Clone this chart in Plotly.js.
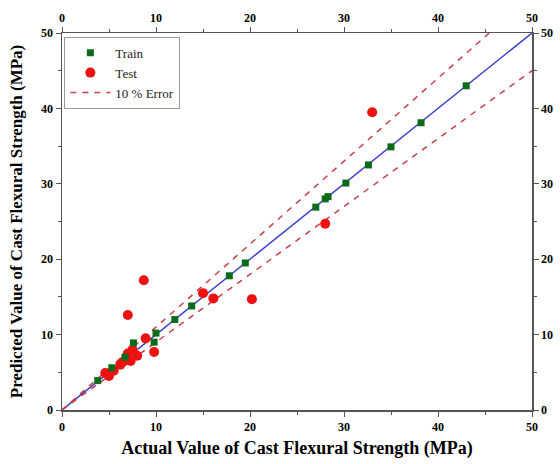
<!DOCTYPE html>
<html>
<head>
<meta charset="utf-8">
<script src="https://cdn.plot.ly/plotly-3.0.1.min.js"></script>
<style>html,body{margin:0;padding:0;background:#fff;}#chart{width:560px;height:464px;}</style>
</head>
<body>
<div id="chart"></div>
<script>
// Train data (actual, predicted)
const trainActual    = [3.8, 5.3, 6.7, 7.6, 9.8, 10.0, 12.0, 13.8, 17.8, 19.5, 27.0, 28.0, 28.3, 30.2, 32.6, 35.0, 38.2, 43.0];
const trainPredicted = [3.9, 5.6, 7.0, 8.9, 9.0, 10.2, 12.0, 13.8, 17.8, 19.5, 26.9, 28.0, 28.3, 30.1, 32.5, 34.9, 38.1, 43.0];
// Test data (actual, predicted)
const testActual    = [4.6, 5.0, 5.5, 6.2, 6.5, 7.0, 7.3, 7.5, 7.0, 8.0, 8.7, 8.9, 9.8, 15.0, 16.1, 20.2, 28.0, 33.0];
const testPredicted = [4.9, 4.5, 5.2, 6.0, 6.4, 7.5, 6.5, 8.0, 12.6, 7.2, 17.2, 9.5, 7.7, 15.5, 14.8, 14.7, 24.7, 39.5];
// Reference lines
const idealX = [0, 50];
const idealY = [0, 50];
const upperX = [0, 45.45];
const upperY = [0, 50];
const lowerX = [0, 50];
const lowerY = [0, 45];
const tickVals = [0, 10, 20, 30, 40, 50];

const serif = "Liberation Serif";
const errColor = "#c8404a";

const traces = [
  {x: idealX, y: idealY, mode: "lines", line: {color: "#3b3fcf", width: 1.5}, showlegend: false, hoverinfo: "skip"},
  {x: upperX, y: upperY, mode: "lines", line: {color: errColor, width: 1.5, dash: "6px,6px"}, name: "10 % Error", legendrank: 3},
  {x: lowerX, y: lowerY, mode: "lines", line: {color: errColor, width: 1.5, dash: "6px,6px"}, showlegend: false},
  {x: testActual, y: testPredicted, mode: "markers", name: "Test", marker: {color: "#ee1111", size: 10, symbol: "circle"}, legendrank: 2},
  {x: trainActual, y: trainPredicted, mode: "markers", name: "Train", marker: {color: "#0b6b1a", size: 7, symbol: "square"}, legendrank: 1},
  {x: [0], y: [0], xaxis: "x2", yaxis: "y2", mode: "markers", marker: {opacity: 0}, showlegend: false, hoverinfo: "skip"}
];

function axCommon() {
  return {
    range: [0, 50], tickvals: tickVals, ticktext: tickVals.map(String),
    ticks: "outside", ticklen: 5, tickwidth: 1, tickcolor: "#555",
    showline: true, linecolor: "#555", linewidth: 1.5,
    showgrid: false, zeroline: false,
    tickfont: {family: serif, size: 12, color: "#000", weight: "bold"},
    minor: {dtick: 5, ticks: "outside", ticklen: 3, tickcolor: "#555", showgrid: false}
  };
}

const layout = {
  width: 560, height: 464,
  margin: {l: 62, r: 28, t: 33, b: 54},
  paper_bgcolor: "#fff", plot_bgcolor: "#fff",
  font: {family: serif, color: "#000"},
  xaxis: Object.assign(axCommon(), {
    title: {text: "Actual Value of Cast Flexural Strength (MPa)", font: {family: serif, size: 18, weight: "bold"}, standoff: 8}
  }),
  yaxis: Object.assign(axCommon(), {
    title: {text: "Predicted Value of Cast Flexural Strength (MPa)", font: {family: serif, size: 17, weight: "bold"}, standoff: 14}
  }),
  xaxis2: Object.assign(axCommon(), {overlaying: "x", side: "top", anchor: "y2"}),
  yaxis2: Object.assign(axCommon(), {overlaying: "y", side: "right", anchor: "x2"}),
  legend: {
    x: 0.005, y: 0.99, xanchor: "left", yanchor: "top",
    bgcolor: "#fff", bordercolor: "#999", borderwidth: 1,
    font: {family: serif, size: 13, color: "#222"},
    tracegroupgap: 0, itemwidth: 40
  },
  showlegend: true
};

Plotly.newPlot("chart", traces, layout, {displayModeBar: false, staticPlot: true});
</script>
</body>
</html>
